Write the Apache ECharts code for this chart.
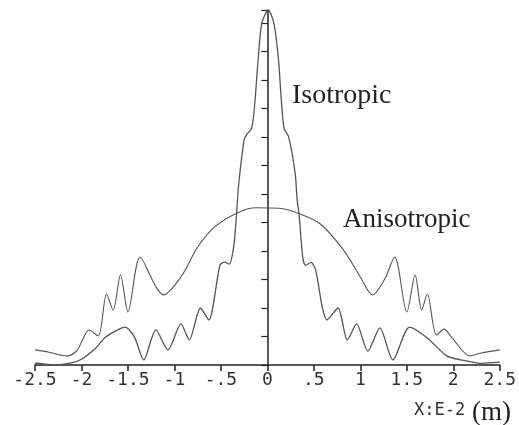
<!DOCTYPE html>
<html>
<head>
<meta charset="utf-8">
<script src="https://cdn.jsdelivr.net/npm/echarts@6/dist/echarts.min.js"></script>
<style>html,body{margin:0;padding:0;background:#fff;}#c{width:519px;height:425px;}</style>
</head>
<body>
<div id="c"></div>
<script>
// Isotropic (sharp central peak)
var isoX = [-2.5,-2.29,-2.1,-1.99,-1.86,-1.74,-1.6,-1.53,-1.43,-1.33,-1.2,-1.07,-0.93,-0.84,-0.72,-0.63,-0.51,-0.46,-0.41,-0.36,-0.33,-0.31,-0.25,-0.22,-0.17,-0.14,-0.10,-0.06,0.01,0.07,0.12,0.15,0.18,0.23,0.30,0.32,0.34,0.38,0.41,0.47,0.52,0.59,0.64,0.76,0.86,0.96,1.08,1.21,1.35,1.53,1.72,1.93,2.08,2.3,2.5];
var isoY = [0.07,0.0,0.08,0.22,0.55,0.98,1.25,1.33,0.98,0.18,1.23,0.53,1.44,0.88,2.0,1.58,3.51,3.61,3.54,4.21,5.37,6.3,7.9,8.1,8.3,9.0,10.7,12.0,12.46,12.0,10.7,9.3,8.3,8.0,6.7,5.8,5.33,3.8,3.5,3.6,3.33,2.04,1.58,2.0,0.88,1.44,0.49,1.30,0.18,1.33,0.95,0.32,0.18,0.06,0.1];
// Anisotropic (broad dome)
var aniX = [-2.5,-2.35,-2.16,-2.05,-1.99,-1.92,-1.82,-1.73,-1.66,-1.58,-1.50,-1.37,-1.21,-1.12,-0.93,-0.75,-0.57,-0.33,-0.12,0.12,0.33,0.57,0.82,1.0,1.13,1.26,1.37,1.50,1.59,1.66,1.72,1.82,1.90,1.98,2.18,2.3,2.5];
var aniY = [0.53,0.45,0.32,0.5,0.88,1.23,1.02,2.49,1.93,3.16,1.86,3.79,2.81,2.46,3.09,4.14,4.84,5.33,5.52,5.5,5.33,4.95,4.03,3.09,2.46,3.0,3.79,1.86,3.16,1.93,2.49,1.05,1.26,0.98,0.32,0.42,0.53];
var xTickLabels = ['-2.5','-2','-1.5','-1','-.5','0','.5','1','1.5','2','2.5'];

function pairs(xs, ys){ return xs.map(function(x,i){ return [x, ys[i]]; }); }

var chart = echarts.init(document.getElementById('c'), null, {renderer:'canvas'});
var lineColor = '#555';
chart.setOption({
  animation:false,
  backgroundColor:'#fff',
  grid:{left:35, right:12, top:10, bottom:60, containLabel:false},
  xAxis:{
    type:'value', min:-2.5, max:2.5, interval:0.5,
    splitLine:{show:false},
    axisLine:{lineStyle:{color:'#222', width:1.5}},
    axisTick:{length:6, lineStyle:{color:'#222', width:1.5}},
    axisLabel:{
      margin:6, color:'#333', fontFamily:'DejaVu Sans Mono', fontSize:18,
      formatter:function(v){ var i=Math.round((v+2.5)/0.5); return xTickLabels[i]; }
    }
  },
  yAxis:{
    type:'value', min:0, max:12.46, interval:1,
    splitLine:{show:false},
    axisLine:{onZero:true, lineStyle:{color:'#222', width:1.5}},
    axisTick:{length:6, lineStyle:{color:'#222', width:1.2}},
    axisLabel:{show:false}
  },
  series:[
    {type:'line', name:'Isotropic', data:pairs(isoX, isoY), smooth:0.25, showSymbol:false,
     lineStyle:{color:lineColor, width:1.3}},
    {type:'line', name:'Anisotropic', data:pairs(aniX, aniY), smooth:0.3, showSymbol:false,
     lineStyle:{color:lineColor, width:1.1}}
  ],
  graphic:[
    {type:'text', left:292, top:82, style:{text:'Isotropic', font:'28px "Liberation Serif"', fill:'#222'}},
    {type:'text', left:343, top:206, style:{text:'Anisotropic', font:'27px "Liberation Serif"', fill:'#222'}},
    {type:'text', left:414, top:402, style:{text:'X:E-2', font:'17px "DejaVu Sans Mono"', fill:'#333'}},
    {type:'text', left:472, top:399, style:{text:'(m)', font:'27px "Liberation Serif"', fill:'#222'}}
  ]
});
</script>
</body>
</html>
